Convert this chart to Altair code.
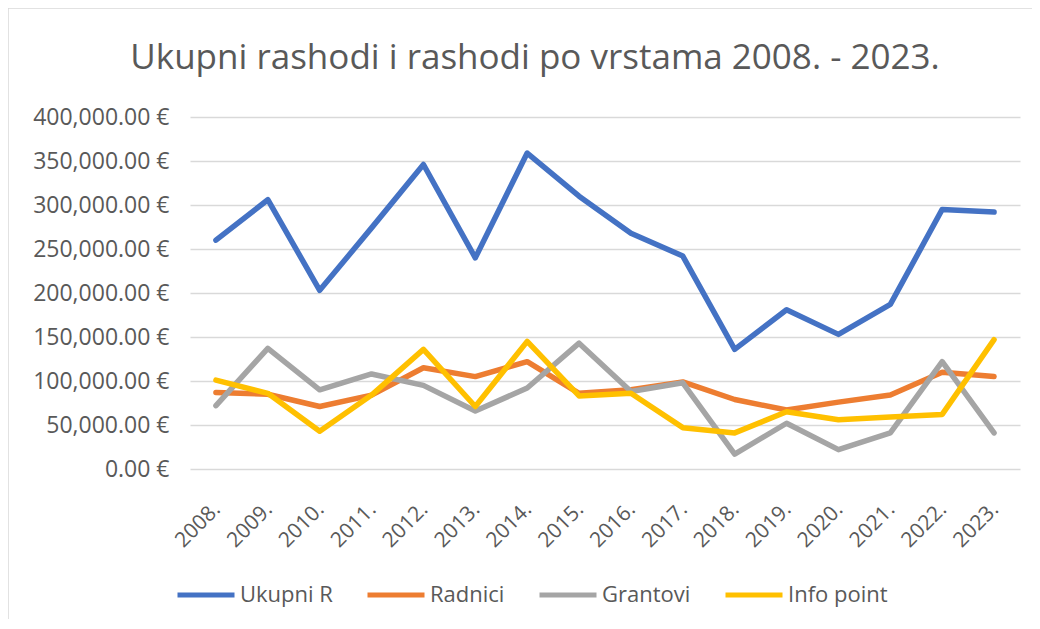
import altair as alt
import pandas as pd

title_text = "Ukupni rashodi i rashodi po vrstama 2008. - 2023."
years = ["2008.", "2009.", "2010.", "2011.", "2012.", "2013.", "2014.", "2015.",
         "2016.", "2017.", "2018.", "2019.", "2020.", "2021.", "2022.", "2023."]
series_names = ["Ukupni R", "Radnici", "Grantovi", "Info point"]
colors = ["#4472C4", "#ED7D31", "#A5A5A5", "#FFC000"]

ukupni = [260000, 306000, 203000, 274000, 346000, 240000, 359000, 310000,
          268000, 242000, 136000, 181000, 153000, 187000, 295000, 292000]
radnici = [87000, 85000, 71000, 84000, 115000, 105000, 122000, 86000,
           90000, 99000, 79000, 67000, 76000, 84000, 110000, 105000]
grantovi = [72000, 137000, 90000, 108000, 95000, 66000, 92000, 143000,
            88000, 98000, 17000, 52000, 22000, 41000, 122000, 41000]
info_point = [101000, 86000, 43000, 84000, 136000, 71000, 145000, 83000,
              86000, 47000, 41000, 65000, 56000, 59000, 62000, 147000]

y_ticks = [0, 50000, 100000, 150000, 200000, 250000, 300000, 350000, 400000]

rows = []
for name, vals in zip(series_names, [ukupni, radnici, grantovi, info_point]):
    for yr, v in zip(years, vals):
        rows.append({"year": yr, "series": name, "value": v})
df = pd.DataFrame(rows)
one = pd.DataFrame({"t": [title_text]})

FONT = "Open Sans"
TXT = "#595959"
W, H = 830, 352

base = alt.Chart(df).mark_line(strokeWidth=5.5, strokeCap="round", strokeJoin="round").encode(
    x=alt.X("year:N", sort=years, title=None,
            axis=alt.Axis(labelAngle=-45, labelFontSize=21, labelColor=TXT, labelFont=FONT,
                          ticks=False, domain=False, grid=False, labelPadding=29,
                          labelOffset=-7)),
    y=alt.Y("value:Q", title=None,
            scale=alt.Scale(domain=[0, 400000], nice=False),
            axis=alt.Axis(values=y_ticks, labelExpr="format(datum.value, ',.2f') + ' €'",
                          labelFontSize=23, labelColor=TXT, labelFont=FONT,
                          ticks=False, domain=False, grid=True, gridColor="#D9D9D9",
                          gridWidth=1.5, labelPadding=21)),
    color=alt.Color("series:N", scale=alt.Scale(domain=series_names, range=colors),
                    title=None,
                    legend=alt.Legend(orient="none", direction="horizontal",
                                      legendX=-15, legendY=447,
                                      symbolType="stroke", symbolSize=3249,
                                      symbolStrokeWidth=5, labelFontSize=22,
                                      labelColor=TXT, labelFont=FONT, labelOffset=3,
                                      columnPadding=24, labelLimit=300)),
)

layers = [base.transform_filter(alt.datum.series == s) for s in series_names]

title_mark = alt.Chart(one).mark_text(
    font=FONT, fontSize=35, color=TXT, align="center", baseline="alphabetic"
).encode(text="t:N", x=alt.value(345), y=alt.value(-48))

border_left = alt.Chart(one).mark_rule(color="#D9D9D9", strokeWidth=1.5).encode(
    x=alt.value(-182), y=alt.value(-109), y2=alt.value(H + 150))
border_top = alt.Chart(one).mark_rule(color="#D9D9D9", strokeWidth=1.5).encode(
    x=alt.value(-182), x2=alt.value(W + 12), y=alt.value(-109))

chart = alt.layer(border_left, border_top, title_mark, *layers).properties(
    width=W, height=H,
    autosize=alt.AutoSizeParams(type="none"),
    padding={"left": 182, "top": 109, "right": 12, "bottom": 150},
).configure_view(stroke=None)

chart.save("out.html", embed_options={"renderer": "svg", "actions": False})
